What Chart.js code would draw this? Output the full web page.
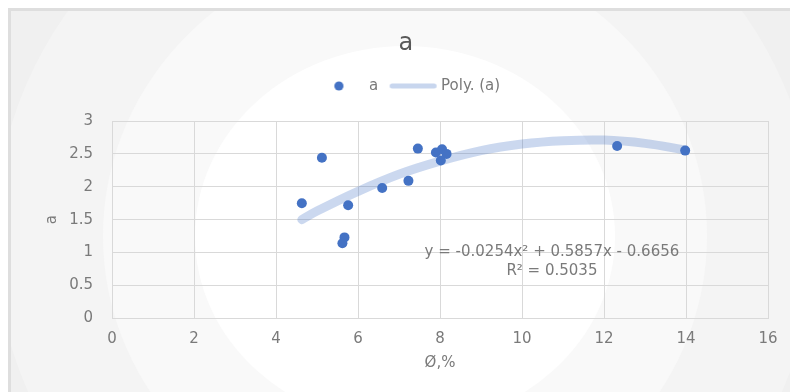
<!DOCTYPE html>
<html>
<head>
<meta charset="utf-8">
<script src="https://cdn.jsdelivr.net/npm/chart.js@4"></script>
<style>
  body { margin: 0; background: #ffffff; }
  canvas { display: block; }
</style>
</head>
<body>
<canvas id="myChart" width="790" height="392"></canvas>
<script>
// measured points: porosity (%) vs a
const phi = [4.63, 5.12, 5.67, 5.62, 5.76, 6.59, 7.23, 7.46, 7.90, 8.05, 8.16, 8.02, 12.32, 13.98];
const aVals = [1.75, 2.44, 1.23, 1.14, 1.72, 1.98, 2.09, 2.58, 2.52, 2.57, 2.50, 2.40, 2.62, 2.55];

// trendline
const trendX = [4.63, 5, 6, 7, 8, 9, 10, 11, 12, 13, 13.98];
const trendY = [1.50, 1.63, 1.93, 2.19, 2.39, 2.55, 2.65, 2.70, 2.71, 2.66, 2.56];

const titulo = 'a';
const xlabel = 'Ø,%';
const ylabel = 'a';
const legendTxt = ['a', 'Poly. (a)'];
const eqLines = ['y = -0.0254x² + 0.5857x - 0.6656', 'R² = 0.5035'];

const FONT = 'DejaVu Sans';
const GRAY = '#595959';
const GRAY2 = '#7a7a7a';
const BLUE = '#4472c4';
const TREND = 'rgba(68,114,196,0.28)';

// legend glyphs
const dot = document.createElement('canvas');
dot.width = 20; dot.height = 12;
let c = dot.getContext('2d');
c.fillStyle = BLUE;
c.beginPath(); c.arc(12.5, 6, 4.6, 0, Math.PI * 2); c.fill();

const bar = document.createElement('canvas');
bar.width = 60; bar.height = 10;
c = bar.getContext('2d');
c.strokeStyle = '#c8d6ee';
c.lineWidth = 5;
c.lineCap = 'round';
c.beginPath(); c.moveTo(13.5, 5); c.lineTo(55.5, 5); c.stroke();

const backdrop = {
  id: 'backdrop',
  beforeDraw(chart) {
    const ctx = chart.ctx;
    ctx.save();
    ctx.fillStyle = '#ffffff';
    ctx.fillRect(0, 0, chart.width, chart.height);
    ctx.fillStyle = '#dedede';
    ctx.fillRect(8, 8, chart.width, chart.height);
    ctx.fillStyle = '#f0f0f0';
    ctx.fillRect(11, 11, chart.width, chart.height);
    ctx.beginPath();
    ctx.rect(11, 11, chart.width, chart.height);
    ctx.clip();
    const rings = [[410, 395, '#f4f4f4'], [302, 290, '#f9f9f9'], [210, 190, '#ffffff']];
    rings.forEach(r => {
      ctx.fillStyle = r[2];
      ctx.beginPath();
      ctx.ellipse(405, 236, r[0], r[1], 0, 0, Math.PI * 2);
      ctx.fill();
    });
    ctx.restore();
  }
};

const equation = {
  id: 'equation',
  afterDatasetsDraw(chart) {
    const ctx = chart.ctx;
    const xs = chart.scales.x, ys = chart.scales.y;
    ctx.save();
    ctx.font = '15px "' + FONT + '"';
    ctx.fillStyle = GRAY2;
    ctx.textAlign = 'center';
    ctx.textBaseline = 'middle';
    ctx.fillText(eqLines[0], xs.getPixelForValue(10.73), ys.getPixelForValue(1.0));
    ctx.fillText(eqLines[1], xs.getPixelForValue(10.73), ys.getPixelForValue(0.72));
    ctx.restore();
  }
};

new Chart(document.getElementById('myChart'), {
  type: 'scatter',
  data: {
    datasets: [
      {
        label: legendTxt[0],
        data: phi.map((v, i) => ({x: v, y: aVals[i]})),
        backgroundColor: BLUE,
        borderWidth: 0,
        pointRadius: 5,
        order: 1
      },
      {
        type: 'line',
        label: legendTxt[1],
        data: trendX.map((v, i) => ({x: v, y: trendY[i]})),
        borderColor: TREND,
        borderWidth: 9,
        borderCapStyle: 'round',
        pointRadius: 0,
        tension: 0.4,
        fill: false,
        order: 2
      }
    ]
  },
  options: {
    responsive: false,
    devicePixelRatio: 1,
    animation: false,
    layout: { padding: { left: 43.5, right: 22, top: 29.6, bottom: 0 } },
    plugins: {
      title: {
        display: true,
        text: titulo,
        color: GRAY,
        font: { family: FONT, size: 24, weight: 'normal' },
        padding: { top: 0, bottom: 14.6 }
      },
      legend: {
        display: true,
        position: 'top',
        labels: {
          usePointStyle: true,
          pointStyleWidth: 50,
          padding: 5.5,
          color: GRAY2,
          font: { family: FONT, size: 15 },
          generateLabels() {
            return [
              { text: legendTxt[0], pointStyle: dot, fontColor: GRAY2, datasetIndex: 0 },
              { text: legendTxt[1], pointStyle: bar, fontColor: GRAY2, datasetIndex: 1 }
            ];
          }
        }
      },
      tooltip: { enabled: false }
    },
    scales: {
      x: {
        type: 'linear',
        position: 'bottom',
        min: 0,
        max: 16,
        ticks: { stepSize: 2, color: GRAY2, padding: 12, font: { family: FONT, size: 15 } },
        grid: { color: '#d9d9d9', drawTicks: false },
        border: { color: '#d9d9d9' },
        title: { display: true, text: xlabel, color: GRAY2, padding: { top: 0, bottom: 20 }, font: { family: FONT, size: 15 } },
        afterFit(s) { s.height = 73.7; }
      },
      xTop: {
        type: 'linear',
        position: 'top',
        display: true,
        ticks: { display: false },
        grid: { display: false },
        border: { display: false },
        afterFit(s) { s.height = 17.5; }
      },
      y: {
        min: 0,
        max: 3,
        ticks: {
          stepSize: 0.5,
          color: GRAY2,
          padding: 19,
          font: { family: FONT, size: 15 },
          callback: v => String(v)
        },
        grid: { color: '#d9d9d9', drawTicks: false },
        border: { color: '#d9d9d9' },
        title: { display: true, text: ylabel, color: GRAY2, padding: { top: 0, bottom: 0 }, font: { family: FONT, size: 15 } },
        afterFit(s) { s.width = 68.5; }
      }
    }
  },
  plugins: [backdrop, equation]
});
</script>
</body>
</html>
